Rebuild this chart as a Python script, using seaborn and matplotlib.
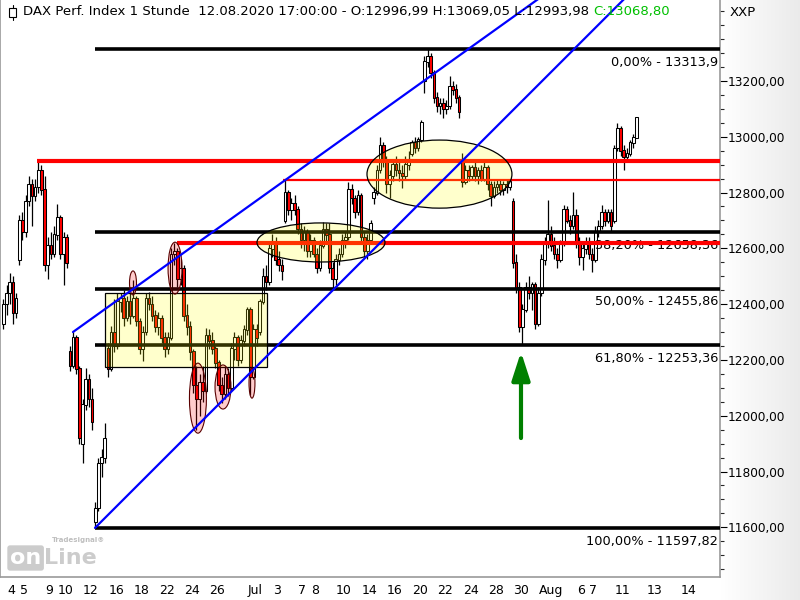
import numpy as np
import seaborn as sns
import matplotlib.pyplot as plt
from matplotlib.patches import Rectangle, Ellipse
from matplotlib.lines import Line2D
from matplotlib.transforms import ScaledTranslation

# DAX 1h, zusammengefasst auf 4 Kerzen pro Handelstag (3.6. letzte Kerze, dann 4.6. - 12.8.)
opens = [12330,
    12400, 12440, 12480, 12370,   12560, 12700, 12660, 12770,   12830, 12790, 12820, 12880,
    12810, 12540, 12610, 12580,   12650, 12710, 12580, 12640,   12230, 12180, 12280, 12170,
    11900, 12040, 12130, 12060,   11620, 11670, 11830, 11850,   12240, 12170, 12300, 12250,
    12410, 12420, 12350, 12410,   12360, 12420, 12340, 12240,   12300, 12420, 12400, 12360,
    12320, 12350, 12280, 12240,   12280, 12580, 12590, 12490,   12530, 12360, 12320, 12230,
    12110, 12060, 12120, 12090,   12290, 12270, 12240, 12190,   12110, 12080, 12150, 12100,
    12240, 12280, 12200, 12270,   12310, 12380, 12140, 12310,   12300, 12410, 12500, 12480,
    12600, 12620, 12560, 12540,   12700, 12800, 12740, 12760,   12740, 12670, 12630, 12660,
    12590, 12630, 12580, 12530,   12610, 12670, 12650, 12530,   12490, 12560, 12580, 12630,
    12640, 12810, 12780, 12730,   12790, 12640, 12590, 12630,   12780, 12800, 12880, 12970,
    12910, 12830, 12860, 12900,   12880, 12870, 12860, 12900,   12940, 12980, 12960, 12990,
    13200, 13270, 13290, 13230,   13140, 13110, 13120, 13100,   13110, 13180, 13170, 13140,
    12920, 12840, 12880, 12860,   12890, 12860, 12880, 12850,   12890, 12830, 12790, 12820,
    12830, 12810, 12830, 12820,   12770, 12550, 12460, 12320,   12380, 12460, 12440, 12470,
    12330, 12440, 12560, 12620,   12650, 12610, 12580, 12560,   12620, 12740, 12700, 12680,
    12720, 12620, 12570, 12600,   12620, 12580, 12560, 12660,   12680, 12730, 12700, 12730,
    12700, 12960, 13030, 12950,   12930, 12940, 12980, 12996.99]
highs = [12420,
    12470, 12510, 12500, 12440,   12720, 12730, 12790, 12860,   12850, 12850, 12913, 12900,
    12860, 12640, 12660, 12680,   12760, 12720, 12660, 12650,   12250, 12300, 12290, 12180,
    12060, 12170, 12150, 12100,   11690, 11850, 11880, 11973,   12260, 12320, 12420, 12440,
    12440, 12450, 12430, 12440,   12487, 12430, 12350, 12320,   12440, 12445, 12430, 12380,
    12370, 12360, 12300, 12300,   12600, 12618, 12600, 12560,   12540, 12400, 12340, 12240,
    12180, 12150, 12180, 12314,   12310, 12300, 12250, 12200,   12140, 12180, 12170, 12260,
    12300, 12290, 12290, 12325,   12390, 12390, 12330, 12330,   12420, 12530, 12540, 12620,
    12650, 12640, 12590, 12560,   12845, 12810, 12780, 12790,   12750, 12690, 12680, 12670,
    12650, 12640, 12600, 12630,   12694, 12690, 12690, 12550,   12580, 12600, 12650, 12660,
    12838, 12830, 12790, 12810,   12800, 12660, 12650, 12700,   12820, 12900, 13000, 12980,
    12930, 12880, 12920, 12930,   12920, 12900, 12930, 12950,   12990, 13000, 13000, 13060,
    13290, 13314, 13300, 13240,   13160, 13140, 13140, 13130,   13217, 13200, 13190, 13150,
    12940, 12900, 12900, 12900,   12910, 12890, 12900, 12910,   12900, 12840, 12840, 12850,
    12850, 12840, 12850, 12850,   12780, 12580, 12480, 12400,   12480, 12500, 12480, 12480,
    12460, 12580, 12640, 12773,   12680, 12640, 12600, 12630,   12755, 12750, 12720, 12802,
    12740, 12640, 12620, 12640,   12640, 12600, 12680, 12700,   12755, 12740, 12740, 12740,
    12970, 13048, 13040, 12970,   12960, 12990, 13010, 13069.05]
lows = [12310,
    12360, 12400, 12330, 12350,   12540, 12630, 12640, 12750,   12680, 12770, 12800, 12790,
    12520, 12490, 12560, 12570,   12630, 12560, 12470, 12530,   12160, 12170, 12150, 11900,
    11830, 12020, 12030, 11950,   11598, 11660, 11780, 11830,   12140, 12160, 12230, 12240,
    12370, 12320, 12340, 12330,   12350, 12320, 12220, 12195,   12290, 12380, 12340, 12300,
    12290, 12260, 12210, 12220,   12270, 12540, 12460, 12470,   12340, 12290, 12200, 12080,
    11950, 12000, 12050, 12080,   12240, 12220, 12170, 12090,   12045, 12060, 12070, 12090,
    12200, 12180, 12190, 12250,   12290, 12075, 12130, 12250,   12290, 12400, 12450, 12470,
    12570, 12540, 12520, 12486,   12690, 12720, 12700, 12720,   12650, 12600, 12590, 12570,
    12570, 12570, 12510, 12520,   12600, 12620, 12510, 12450,   12470, 12540, 12570, 12600,
    12630, 12760, 12710, 12720,   12620, 12570, 12560, 12620,   12760, 12790, 12870, 12890,
    12800, 12780, 12840, 12860,   12840, 12816, 12850, 12880,   12930, 12940, 12950, 12980,
    13156, 13250, 13210, 13120,   13090, 13080, 13066, 13080,   13100, 13150, 13120, 13066,
    12820, 12830, 12840, 12850,   12840, 12830, 12840, 12840,   12810, 12750, 12780, 12800,
    12790, 12790, 12800, 12810,   12530, 12440, 12300, 12253,   12370, 12420, 12380, 12310,
    12320, 12430, 12540, 12600,   12590, 12560, 12530, 12550,   12610, 12690, 12650, 12670,
    12600, 12540, 12522, 12580,   12560, 12515, 12550, 12640,   12670, 12680, 12690, 12660,
    12690, 12950, 12930, 12881,   12910, 12930, 12960, 12993.98]
closes = [12400,
    12440, 12480, 12370, 12420,   12700, 12660, 12770, 12830,   12790, 12820, 12880, 12810,
    12540, 12610, 12580, 12650,   12710, 12580, 12640, 12550,   12180, 12280, 12170, 11920,
    12040, 12130, 12060, 11980,   11670, 11830, 11850, 11920,   12170, 12300, 12250, 12410,
    12420, 12350, 12410, 12360,   12420, 12340, 12240, 12300,   12420, 12400, 12360, 12320,
    12350, 12280, 12240, 12280,   12580, 12590, 12490, 12530,   12360, 12320, 12230, 12110,
    12060, 12120, 12090, 12290,   12270, 12240, 12190, 12110,   12080, 12150, 12100, 12240,
    12280, 12200, 12270, 12310,   12380, 12140, 12310, 12280,   12410, 12500, 12480, 12600,
    12620, 12560, 12540, 12520,   12800, 12740, 12760, 12740,   12670, 12630, 12660, 12590,
    12630, 12580, 12530, 12610,   12670, 12650, 12530, 12490,   12560, 12580, 12630, 12640,
    12810, 12780, 12730, 12790,   12640, 12590, 12630, 12690,   12800, 12880, 12970, 12910,
    12830, 12860, 12900, 12880,   12870, 12860, 12900, 12920,   12980, 12960, 12990, 13050,
    13270, 13290, 13230, 13140,   13110, 13120, 13100, 13110,   13180, 13170, 13140, 13090,
    12840, 12880, 12860, 12890,   12860, 12880, 12850, 12890,   12830, 12790, 12820, 12830,
    12810, 12830, 12820, 12840,   12550, 12460, 12320, 12380,   12460, 12440, 12470, 12330,
    12440, 12560, 12620, 12650,   12610, 12580, 12560, 12620,   12740, 12700, 12680, 12720,
    12620, 12570, 12600, 12620,   12580, 12560, 12660, 12680,   12730, 12700, 12730, 12680,
    12960, 13030, 12950, 12930,   12940, 12980, 12997, 13068.80]

# Achse: Handelstage ab 4.6. (0) ... 12.8. (49), danach Zukunftsbereich
tick_days = [0, 1, 3, 4, 6, 8, 10, 12, 14, 16, 19, 21, 23, 24, 26, 28, 30,
             32, 34, 36, 38, 40, 42, 45, 46, 48, 50.55, 53.2]
tick_labels = ["4", "5", "9", "10", "12", "16", "18", "22", "24", "26", "Jul", "3", "7", "8",
               "10", "14", "16", "20", "22", "24", "28", "30", "Aug", "6", "7", "11", "13", "14"]

# Fibonacci-Retracement
fib_levels = [13313.90, 12658.36, 12455.86, 12253.36, 11597.82]
fib_texts = ["0,00% - 13313,9", "38,20% - 12658,36", "50,00% - 12455,86",
             "61,80% - 12253,36", "100,00% - 11597,82"]
fib_start = 7.11

# rote Widerstandslinien
red_levels = [12913, 12618, 12845]
red_starts = [2.53, 13.6, 21.96]
red_lw = [3.0, 3.0, 1.6]

# Trendkanal (blau)
upper_x, upper_y = [5.37, 45.0], [12300, 13587]
lower_x, lower_y = [7.11, 50.0], [11598, 13543]

# Markierungen: Rechteck, gelbe und rosa Ellipsen (Mitte t, Mitte Kurs, Breite, Hoehe)
box = (7.90, 12175, 12.80, 265)
yellow_ell = [(24.96, 12621, 10.11, 140), (34.32, 12866, 11.45, 244)]
pink_ell = [(10.11, 12476, 0.55, 86), (13.43, 12529, 1.1, 186), (15.24, 12063, 1.34, 251),
            (17.22, 12103, 1.26, 158), (19.51, 12117, 0.47, 108)]
arrow_t, arrow_tip, arrow_tail = 40.76, 12229, 11920

sns.set_theme(style="white")
plt.rcParams["font.family"] = ["DejaVu Sans"]

fig = plt.figure(figsize=(8, 6), dpi=100)

# grauer Verlauf rechts hinter der Kursachse
bg = fig.add_axes([0.9, 0, 0.1, 1], zorder=-5)
grad = np.linspace(1.0, 0.92, 64)[None, :]
bg.imshow(np.dstack([grad, grad, grad]), aspect="auto", extent=[0, 1, 0, 1])
bg.axis("off")

ax = fig.add_axes([0, 23 / 600, 720 / 800, 577 / 600], zorder=1)
ax.set_facecolor("white")

o = np.array(opens); h = np.array(highs); l = np.array(lows); c = np.array(closes)
t = (np.arange(len(o)) - 0.5) / 4
up = c >= o

ax.vlines(t, l, h, color="black", lw=0.9, zorder=2)
ax.bar(t, np.abs(c - o) + 2, bottom=np.minimum(o, c) - 1, width=0.21,
       color=np.where(up, "white", "#ff0000"), edgecolor="black", linewidth=0.75, zorder=3)

for lvl, txt in zip(fib_levels, fib_texts):
    ax.hlines(lvl, fib_start, 60, color="black", lw=2.6, zorder=4)
    ax.text(56.32, lvl - 47, txt, ha="right", va="center", fontsize=9.3, color="black", zorder=4.2)

for lvl, x0, lw in zip(red_levels, red_starts, red_lw):
    ax.hlines(lvl, x0, 60, color="#ff0000", lw=lw, zorder=4.5)

ax.add_patch(Rectangle((box[0], box[1]), box[2], box[3], facecolor=(1, 1, 0, 0.2),
                       edgecolor="black", lw=0.9, zorder=5))
for cx, cy, w, hh in yellow_ell:
    ax.add_patch(Ellipse((cx, cy), w, hh, facecolor=(1, 1, 0, 0.2), edgecolor="black",
                         lw=0.9, zorder=5))
for cx, cy, w, hh in pink_ell:
    ax.add_patch(Ellipse((cx, cy), w, hh, facecolor=(1, 0, 0, 0.2), edgecolor=(0.35, 0, 0),
                         lw=0.8, zorder=5))

ax.plot(upper_x, upper_y, color="#0000ff", lw=1.6, zorder=6)
ax.plot(lower_x, lower_y, color="#0000ff", lw=1.6, zorder=6)

ax.annotate("", xy=(arrow_t, arrow_tip), xytext=(arrow_t, arrow_tail), zorder=7,
            arrowprops=dict(arrowstyle="-|>,head_length=1.7,head_width=0.55", color="#008000",
                            lw=3, shrinkA=0, shrinkB=0, mutation_scale=10))

ax.set_xlim(-0.395, 56.48)
ax.set_ylim(11422, 13490)

# Kursachse rechts
ax.yaxis.tick_right()
ax.set_yticks(np.arange(11600, 13201, 200))
ax.set_yticklabels([f"{v:.2f}".replace(".", ",") for v in np.arange(11600, 13201, 200)])
ax.set_yticks(np.arange(11450, 13490, 50), minor=True)
ax.tick_params(axis="y", which="major", direction="out", length=5, width=0.8, pad=0.8,
               labelsize=8.7, colors="black", right=True, left=False)
ax.tick_params(axis="y", which="minor", direction="out", length=3, width=0.8, right=True, left=False)

# Datumsachse unten
ax.set_xticks(tick_days)
ax.set_xticklabels(tick_labels)
ax.tick_params(axis="x", direction="out", length=4, width=0.8, pad=1, labelsize=9, colors="black")
offset = ScaledTranslation(2 / 100, 0, fig.dpi_scale_trans)
for lbl in ax.get_xticklabels():
    lbl.set_horizontalalignment("left")
    lbl.set_transform(lbl.get_transform() + offset)

for side in ["left", "bottom", "right"]:
    ax.spines[side].set_color("#9a9a9a")
    ax.spines[side].set_linewidth(1.2)
ax.spines["top"].set_visible(False)

# Kopfzeile
fig.add_artist(Line2D([12.5 / 800, 12.5 / 800], [1 - 5 / 600, 1 - 20 / 600], color="black",
                      lw=0.8, transform=fig.transFigure, zorder=10))
fig.add_artist(Rectangle((9 / 800, 1 - 17 / 600), 7 / 800, 9 / 600, facecolor="white",
                         edgecolor="black", lw=0.8, transform=fig.transFigure, zorder=11))
head = fig.text(23 / 800, 1 - 12 / 600,
                "DAX Perf. Index 1 Stunde  12.08.2020 17:00:00 - O:12996,99 H:13069,05 L:12993,98 ",
                fontsize=9.5, va="center", ha="left", color="black")
fig.canvas.draw()
bb = head.get_window_extent()
fig.text(bb.x1 / fig.bbox.width, 1 - 12 / 600, "C:13068,80", fontsize=9.5, va="center",
         ha="left", color="#00c000")
fig.text(730 / 800, 1 - 12 / 600, "XXP", fontsize=9.5, va="center", ha="left", color="black")

# Wasserzeichen
fig.text(10 / 800, 1 - 558 / 600, "on", fontsize=16, fontweight="bold", color="white",
         va="center", ha="left", zorder=10,
         bbox=dict(boxstyle="round,pad=0.12", fc=(0.8, 0.8, 0.8), ec="none"))
fig.text(44 / 800, 1 - 558 / 600, "Line", fontsize=16, fontweight="bold", color=(0.8, 0.8, 0.8),
         va="center", ha="left", zorder=10)
fig.text(52 / 800, 1 - 540 / 600, "Tradesignal®", fontsize=5, fontweight="bold",
         color=(0.75, 0.75, 0.75), va="center", ha="left", zorder=10)

fig.savefig("out.png", dpi=100)
